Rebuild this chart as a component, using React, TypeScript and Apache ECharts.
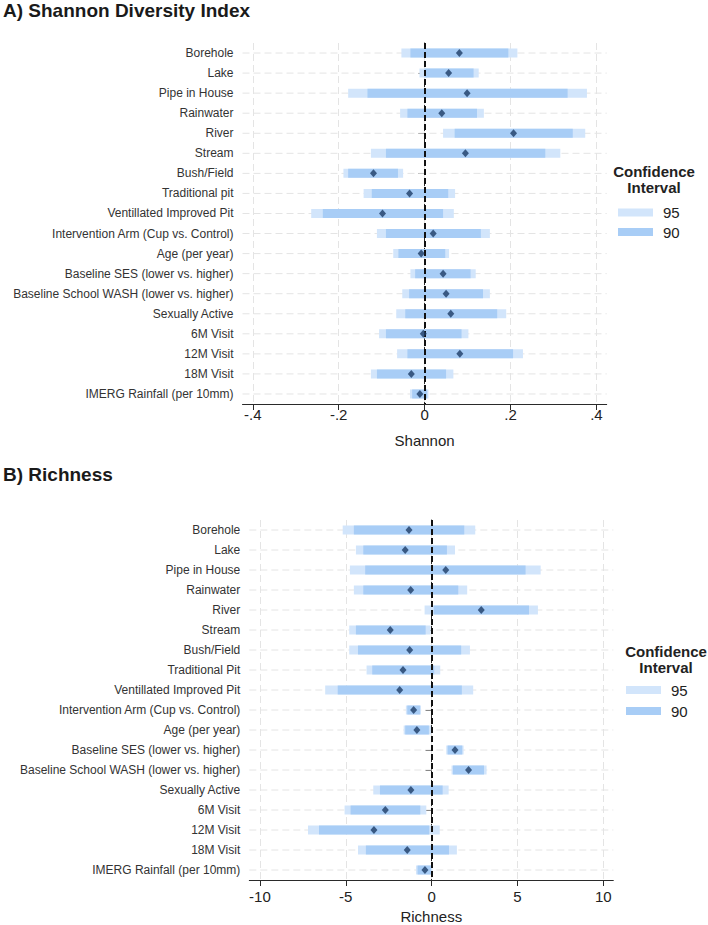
import React, { useEffect, useRef } from "react";
import * as echarts from "echarts";

const FONT = '"Liberation Sans", Arial, Helvetica, sans-serif';

const catsA = [
  "Borehole", "Lake", "Pipe in House", "Rainwater", "River", "Stream", "Bush/Field",
  "Traditional pit", "Ventillated Improved Pit", "Intervention Arm (Cup vs. Control)",
  "Age (per year)", "Baseline SES (lower vs. higher)", "Baseline School WASH (lower vs. higher)",
  "Sexually Active", "6M Visit", "12M Visit", "18M Visit", "IMERG Rainfall (per 10mm)",
];
const catsB = [
  "Borehole", "Lake", "Pipe in House", "Rainwater", "River", "Stream", "Bush/Field",
  "Traditional Pit", "Ventillated Improved Pit", "Intervention Arm (Cup vs. Control)",
  "Age (per year)", "Baseline SES (lower vs. higher)", "Baseline School WASH (lower vs. higher)",
  "Sexually Active", "6M Visit", "12M Visit", "18M Visit", "IMERG Rainfall (per 10mm)",
];

// Shannon diversity
const shanEst = [0.081, 0.056, 0.099, 0.040, 0.207, 0.095, -0.119, -0.035, -0.098, 0.020, -0.008, 0.043, 0.050, 0.061, -0.003, 0.082, -0.031, -0.011];
const shanLo90 = [-0.033, 0.000, -0.133, -0.040, 0.070, -0.090, -0.178, -0.123, -0.237, -0.090, -0.061, -0.022, -0.036, -0.045, -0.090, -0.040, -0.111, -0.029];
const shanHi90 = [0.195, 0.114, 0.333, 0.122, 0.345, 0.281, -0.062, 0.055, 0.043, 0.131, 0.048, 0.107, 0.136, 0.169, 0.086, 0.206, 0.050, 0.006];
const shanLo95 = [-0.054, -0.012, -0.178, -0.057, 0.043, -0.125, -0.189, -0.142, -0.264, -0.111, -0.073, -0.033, -0.052, -0.066, -0.106, -0.064, -0.125, -0.034];
const shanHi95 = [0.216, 0.126, 0.378, 0.138, 0.374, 0.316, -0.050, 0.071, 0.068, 0.152, 0.057, 0.119, 0.152, 0.190, 0.102, 0.229, 0.067, 0.009];

// Richness
const richEst = [-1.32, -1.54, 0.82, -1.22, 2.89, -2.41, -1.28, -1.67, -1.86, -1.05, -0.86, 1.36, 2.15, -1.21, -2.70, -3.36, -1.42, -0.39];
const richLo90 = [-4.53, -3.98, -3.87, -3.98, 0.12, -4.41, -4.29, -3.46, -5.47, -1.42, -1.54, 0.93, 1.24, -3.01, -4.72, -6.56, -3.83, -0.82];
const richHi90 = [1.90, 0.89, 5.47, 1.55, 5.67, -0.35, 1.72, 0.15, 1.76, -0.68, -0.16, 1.78, 3.05, 0.64, -0.66, -0.14, 1.01, -0.04];
const richLo95 = [-5.18, -4.41, -4.76, -4.53, -0.41, -4.80, -4.80, -3.79, -6.20, -1.50, -1.63, 0.85, 1.16, -3.40, -5.07, -7.20, -4.29, -0.91];
const richHi95 = [2.54, 1.36, 6.35, 2.07, 6.19, -0.06, 2.23, 0.50, 2.42, -0.62, -0.04, 1.86, 3.20, 0.99, -0.31, 0.47, 1.47, 0.04];

const shanTicks = [-0.4, -0.2, 0, 0.2, 0.4];
const richTicks = [-10, -5, 0, 5, 10];
const legendLabels = ["95", "90"];

const C95 = "#d2e5fb";
const C90 = "#a8cdf6";
const CEST = "#1d3c66";
const GRIDC = "#e4e4e4";
const AXC = "#2a2a2a";

const fmtShan = (v: number) => {
  if (Math.abs(v) < 1e-9) return "0";
  const s = Math.abs(v).toFixed(1).replace(/^0/, "");
  return (v < 0 ? "-" : "") + s;
};
const fmtRich = (v: number) => String(Math.round(v));

function buildPanel(
  gi: number,
  cats: string[],
  est: number[],
  lo90: number[],
  hi90: number[],
  lo95: number[],
  hi95: number[],
  ticks: number[],
  fmt: (v: number) => string,
  xmin: number,
  xmax: number,
  name: string,
  labelMargin: number
) {
  const xAxis = {
    type: "value",
    gridIndex: gi,
    min: xmin,
    max: xmax,
    axisLine: { show: true, lineStyle: { color: AXC, width: 1 } },
    axisTick: { show: true, length: 6, customValues: ticks, lineStyle: { color: AXC } },
    axisLabel: {
      customValues: ticks,
      formatter: fmt,
      fontSize: 15,
      fontFamily: FONT,
      color: "#222",
      margin: labelMargin,
    },
    splitLine: { show: false },
    name,
    nameLocation: "middle",
    nameGap: 29,
    nameTextStyle: { fontSize: 15, fontFamily: FONT, color: "#222" },
  };
  const yAxis = {
    type: "category",
    gridIndex: gi,
    data: cats,
    inverse: true,
    axisLine: { show: true, lineStyle: { color: AXC, width: 1 } },
    axisTick: { show: true, alignWithLabel: true, length: 6, lineStyle: { color: AXC } },
    axisLabel: { fontSize: 12, fontFamily: FONT, color: "#333", margin: 9 },
    splitLine: { show: false },
  };
  const series: any[] = [
    {
      type: "custom",
      xAxisIndex: gi,
      yAxisIndex: gi,
      z: 1,
      silent: true,
      data: cats.map((_, i) => [xmin, i]),
      encode: { x: 0, y: 1 },
      renderItem: (params: any, api: any) => {
        const i = api.value(1);
        const p1 = api.coord([xmin, i]);
        const p2 = api.coord([xmax, i]);
        return {
          type: "line",
          shape: { x1: p1[0], y1: p1[1], x2: p2[0], y2: p2[1] },
          style: { stroke: GRIDC, lineWidth: 1, lineDash: [7, 4] },
        };
      },
      markLine: {
        silent: true,
        symbol: "none",
        z: 1,
        label: { show: false },
        emphasis: { disabled: true },
        lineStyle: { color: GRIDC, type: [7, 4], width: 1 },
        data: ticks.map((t) => ({ xAxis: t })),
      },
    },
    {
      type: "custom",
      xAxisIndex: gi,
      yAxisIndex: gi,
      z: 2,
      silent: true,
      data: cats.map((_, i) => [lo95[i], i, hi95[i], lo90[i], hi90[i]]),
      encode: { x: [0, 2, 3, 4], y: 1 },
      renderItem: (params: any, api: any) => {
        const i = api.value(1);
        const a = api.coord([api.value(0), i]);
        const b = api.coord([api.value(2), i]);
        const c = api.coord([api.value(3), i]);
        const d = api.coord([api.value(4), i]);
        const h = 9;
        return {
          type: "group",
          children: [
            { type: "rect", shape: { x: a[0], y: a[1] - h / 2, width: b[0] - a[0], height: h }, style: { fill: C95 } },
            { type: "rect", shape: { x: c[0], y: c[1] - h / 2, width: d[0] - c[0], height: h }, style: { fill: C90 } },
          ],
        };
      },
      markLine: {
        silent: true,
        symbol: "none",
        z: 3,
        label: { show: false },
        emphasis: { disabled: true },
        lineStyle: { color: "#111", type: [6, 3], width: 2 },
        data: [{ xAxis: 0 }],
      },
    },
    {
      type: "scatter",
      xAxisIndex: gi,
      yAxisIndex: gi,
      z: 10,
      silent: true,
      symbol: "diamond",
      symbolSize: [7, 8],
      itemStyle: { color: CEST },
      data: est.map((v, i) => [v, i]),
    },
  ];
  return { xAxis, yAxis, series };
}

function legendGraphics(cx: number, titleY: number, swX: number, y95: number, y90: number) {
  const items: any[] = [
    {
      type: "text",
      x: cx,
      y: titleY,
      style: {
        text: "Confidence\nInterval",
        font: `bold 15px ${FONT}`,
        fill: "#222",
        align: "center",
        verticalAlign: "middle",
        lineHeight: 16,
      },
    },
  ];
  const ys = [y95, y90];
  const cols = [C95, C90];
  legendLabels.forEach((lab, k) => {
    items.push({
      type: "rect",
      shape: { x: swX, y: ys[k] - 4, width: 35, height: 8 },
      style: { fill: cols[k] },
    });
    items.push({
      type: "text",
      x: swX + 45,
      y: ys[k],
      style: { text: lab, font: `15px ${FONT}`, fill: "#222", align: "left", verticalAlign: "middle" },
    });
  });
  return items;
}

export default function App() {
  const ref = useRef<HTMLDivElement>(null);
  useEffect(() => {
    if (!ref.current) return;
    const chart = echarts.init(ref.current, undefined, { renderer: "svg" });
    const pA = buildPanel(0, catsA, shanEst, shanLo90, shanHi90, shanLo95, shanHi95, shanTicks, fmtShan, -0.424, 0.424, "Shannon", 3);
    const pB = buildPanel(1, catsB, richEst, richLo90, richHi90, richLo95, richHi95, richTicks, fmtRich, -10.62, 10.58, "Richness", 9);
    chart.setOption({
      animation: false,
      backgroundColor: "#fff",
      textStyle: { fontFamily: FONT },
      grid: [
        { left: 242.5, right: 101.3, top: 43, height: 361, containLabel: false },
        { left: 249.3, right: 94.7, top: 520, height: 360.7, containLabel: false },
      ],
      xAxis: [pA.xAxis, pB.xAxis],
      yAxis: [pA.yAxis, pB.yAxis],
      series: [...pA.series, ...pB.series],
      graphic: [
        {
          type: "text",
          x: 3,
          y: 10,
          style: { text: "A) Shannon Diversity Index", font: `bold 19px ${FONT}`, fill: "#1a1a1a", verticalAlign: "middle" },
        },
        {
          type: "text",
          x: 3,
          y: 474.5,
          style: { text: "B) Richness", font: `bold 19px ${FONT}`, fill: "#1a1a1a", verticalAlign: "middle" },
        },
        ...legendGraphics(654, 179, 618, 212.5, 232),
        ...legendGraphics(666, 659, 626, 690, 711),
      ],
    });
    return () => chart.dispose();
  }, []);
  return (
    <div
      ref={ref}
      style={{ position: "fixed", left: 0, top: 0, width: 708, height: 925, background: "#fff" }}
    />
  );
}
